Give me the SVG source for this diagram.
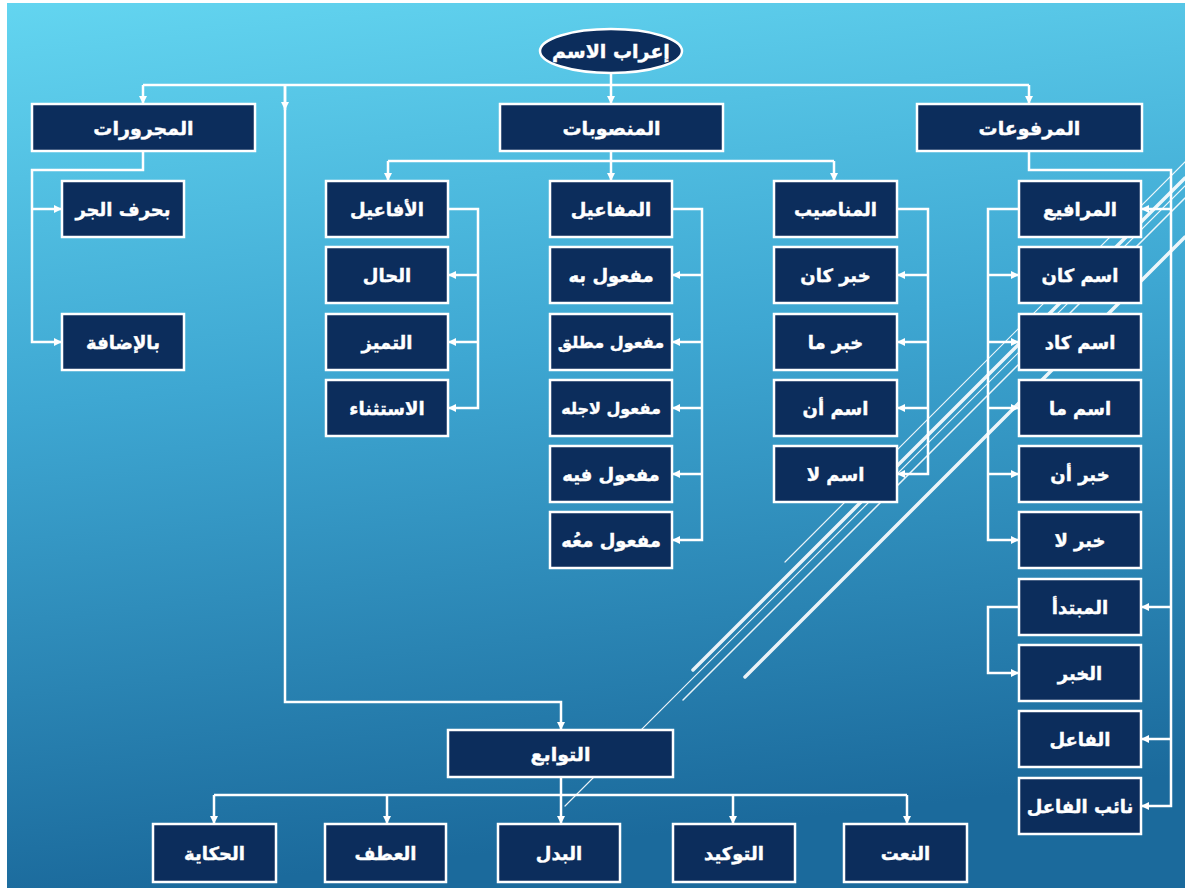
<svg xmlns="http://www.w3.org/2000/svg" width="1185" height="888" viewBox="0 0 1185 888">
  <defs>
    <linearGradient id="bg" x1="0" y1="0" x2="0.15" y2="1">
      <stop offset="0" stop-color="#63d5f0"/>
      <stop offset="0.45" stop-color="#3ea7d2"/>
      <stop offset="1" stop-color="#1b6a9c"/>
    </linearGradient>
    <marker id="arrow" markerUnits="userSpaceOnUse" markerWidth="9" markerHeight="9" refX="8" refY="4.5" orient="auto">
      <path d="M0,0.5 L8,4.5 L0,8.5 z" fill="#ffffff"/>
    </marker>
    <style>
      .box { fill: #0c2d5c; stroke: #ffffff; stroke-width: 2.5; }
      .lbl { fill: #ffffff; stroke: #ffffff; stroke-width: 0.4; font-family: "DejaVu Sans", "Liberation Sans", sans-serif; font-weight: bold; font-size: 18px; text-anchor: middle; dominant-baseline: central; direction: rtl; }
      .big { font-size: 19px; }
      .narrow { font-size: 16px; }
      .conn { fill: none; stroke: #ffffff; stroke-width: 2.5; }
      .arr { fill: none; stroke: #ffffff; stroke-width: 2.5; marker-end: url(#arrow); }
      .deco { stroke: #ffffff; fill: none; stroke-linecap: round; }
    </style>
  </defs>

  <!-- background -->
  <rect x="0" y="0" width="1185" height="888" fill="#ffffff"/>
  <rect x="7" y="3" width="1178" height="885" fill="url(#bg)"/>

  <!-- decorative diagonal strokes -->
  <g id="decoration" opacity="0.9">
    <line class="deco" x1="785" y1="562" x2="1185" y2="162" stroke-width="1.2"/>
    <line class="deco" x1="693" y1="670" x2="1185" y2="178" stroke-width="3.5"/>
    <line class="deco" x1="565" y1="806" x2="1185" y2="186" stroke-width="1.2"/>
    <line class="deco" x1="683" y1="700" x2="1185" y2="198" stroke-width="1.5"/>
    <line class="deco" x1="745" y1="677" x2="1185" y2="237" stroke-width="3.5"/>
  </g>

  <!-- connectors -->
  <g id="connectors">
    <!-- root to the three main branches -->
    <path class="arr" d="M611,73 V104"/>
    <path class="conn" d="M143,85 H1029"/>
    <path class="arr" d="M143,85 V104"/>
    <path class="arr" d="M1029,85 V104"/>
    <path class="arr" d="M285,85 V110"/>
    <path class="arr" d="M285,85 V702 H561 V730"/>

    <!-- المجرورات -->
    <path class="arr" d="M143,151 V170 H32 V342 H62"/>
    <path class="arr" d="M32,209 H62"/>

    <!-- المنصوبات -->
    <path class="conn" d="M611,151 V161 M388,161 H834"/>
    <path class="arr" d="M388,161 V181"/>
    <path class="arr" d="M611,161 V181"/>
    <path class="arr" d="M834,161 V181"/>

    <!-- الأفاعيل -->
    <path class="arr" d="M448,209 H478 V408 H448"/>
    <path class="arr" d="M478,275 H448"/>
    <path class="arr" d="M478,342 H448"/>

    <!-- المفاعيل -->
    <path class="arr" d="M672,209 H702 V540 H672"/>
    <path class="arr" d="M702,275 H672"/>
    <path class="arr" d="M702,342 H672"/>
    <path class="arr" d="M702,408 H672"/>
    <path class="arr" d="M702,474 H672"/>

    <!-- المناصيب -->
    <path class="arr" d="M897,209 H928 V474 H897"/>
    <path class="arr" d="M928,275 H897"/>
    <path class="arr" d="M928,342 H897"/>
    <path class="arr" d="M928,408 H897"/>

    <!-- المرافيع -->
    <path class="arr" d="M1019,209 H988 V540 H1019"/>
    <path class="arr" d="M988,275 H1019"/>
    <path class="arr" d="M988,342 H1019"/>
    <path class="arr" d="M988,408 H1019"/>
    <path class="arr" d="M988,474 H1019"/>

    <!-- المرفوعات -->
    <path class="arr" d="M1029,151 V170 H1171 V806 H1141"/>
    <path class="arr" d="M1171,209 H1141"/>
    <path class="arr" d="M1171,607 H1141"/>
    <path class="arr" d="M1171,739 H1141"/>

    <!-- المبتدأ والخبر -->
    <path class="arr" d="M1019,607 H988 V673 H1019"/>

    <!-- التوابع -->
    <path class="arr" d="M561,777 V824"/>
    <path class="conn" d="M214,795 H907"/>
    <path class="arr" d="M214,795 V824"/>
    <path class="arr" d="M387,795 V824"/>
    <path class="arr" d="M733,795 V824"/>
    <path class="arr" d="M907,795 V824"/>
  </g>

  <!-- root -->
  <g id="root">
    <ellipse class="box" cx="611" cy="51" rx="71" ry="22"/>
    <text class="lbl big" x="611" y="51">إعراب الاسم</text>
  </g>

  <!-- main branches -->
  <g id="majrurat">
    <rect class="box" x="32" y="104" width="223" height="47"/>
    <text class="lbl big" x="143.5" y="127.5">المجرورات</text>
  </g>
  <g id="mansubat">
    <rect class="box" x="500" y="104" width="223" height="47"/>
    <text class="lbl big" x="611.5" y="127.5">المنصوبات</text>
  </g>
  <g id="marfuat">
    <rect class="box" x="917" y="104" width="225" height="47"/>
    <text class="lbl big" x="1029.5" y="127.5">المرفوعات</text>
  </g>

  <!-- المجرورات children -->
  <g id="harf-jarr">
    <rect class="box" x="62" y="181" width="122" height="56"/>
    <text class="lbl" x="123" y="209">بحرف الجر</text>
  </g>
  <g id="idafa">
    <rect class="box" x="62" y="314" width="122" height="56"/>
    <text class="lbl" x="123" y="342">بالإضافة</text>
  </g>

  <!-- الأفاعيل column -->
  <g id="afail">
    <rect class="box" x="326" y="181" width="122" height="56"/>
    <text class="lbl" x="387" y="209">الأفاعيل</text>
  </g>
  <g id="hal">
    <rect class="box" x="326" y="247" width="122" height="56"/>
    <text class="lbl" x="387" y="275">الحال</text>
  </g>
  <g id="tamyiz">
    <rect class="box" x="326" y="314" width="122" height="56"/>
    <text class="lbl" x="387" y="342">التميز</text>
  </g>
  <g id="istithna">
    <rect class="box" x="326" y="380" width="122" height="56"/>
    <text class="lbl" x="387" y="408">الاستثناء</text>
  </g>

  <!-- المفاعيل column -->
  <g id="mafail">
    <rect class="box" x="550" y="181" width="122" height="56"/>
    <text class="lbl" x="611" y="209">المفاعيل</text>
  </g>
  <g id="maful-bih">
    <rect class="box" x="550" y="247" width="122" height="56"/>
    <text class="lbl" x="611" y="275">مفعول به</text>
  </g>
  <g id="maful-mutlaq">
    <rect class="box" x="550" y="314" width="122" height="56"/>
    <text class="lbl narrow" x="611" y="342">مفعول مطلق</text>
  </g>
  <g id="maful-li-ajlih">
    <rect class="box" x="550" y="380" width="122" height="56"/>
    <text class="lbl narrow" x="611" y="408">مفعول لاجله</text>
  </g>
  <g id="maful-fih">
    <rect class="box" x="550" y="446" width="122" height="56"/>
    <text class="lbl" x="611" y="474">مفعول فيه</text>
  </g>
  <g id="maful-maah">
    <rect class="box" x="550" y="512" width="122" height="56"/>
    <text class="lbl" x="611" y="540">مفعول معُه</text>
  </g>

  <!-- المناصيب column -->
  <g id="manasib">
    <rect class="box" x="774" y="181" width="123" height="56"/>
    <text class="lbl" x="835.5" y="209">المناصيب</text>
  </g>
  <g id="khabar-kana">
    <rect class="box" x="774" y="247" width="123" height="56"/>
    <text class="lbl" x="835.5" y="275">خبر كان</text>
  </g>
  <g id="khabar-ma">
    <rect class="box" x="774" y="314" width="123" height="56"/>
    <text class="lbl" x="835.5" y="342">خبر ما</text>
  </g>
  <g id="ism-anna">
    <rect class="box" x="774" y="380" width="123" height="56"/>
    <text class="lbl" x="835.5" y="408">اسم أن</text>
  </g>
  <g id="ism-la">
    <rect class="box" x="774" y="446" width="123" height="56"/>
    <text class="lbl" x="835.5" y="474">اسم لا</text>
  </g>

  <!-- المرافيع column -->
  <g id="marafi">
    <rect class="box" x="1019" y="181" width="122" height="56"/>
    <text class="lbl" x="1080" y="209">المرافيع</text>
  </g>
  <g id="ism-kana">
    <rect class="box" x="1019" y="247" width="122" height="56"/>
    <text class="lbl" x="1080" y="275">اسم كان</text>
  </g>
  <g id="ism-kada">
    <rect class="box" x="1019" y="314" width="122" height="56"/>
    <text class="lbl" x="1080" y="342">اسم كاد</text>
  </g>
  <g id="ism-ma">
    <rect class="box" x="1019" y="380" width="122" height="56"/>
    <text class="lbl" x="1080" y="408">اسم ما</text>
  </g>
  <g id="khabar-anna">
    <rect class="box" x="1019" y="446" width="122" height="56"/>
    <text class="lbl" x="1080" y="474">خبر أن</text>
  </g>
  <g id="khabar-la">
    <rect class="box" x="1019" y="512" width="122" height="56"/>
    <text class="lbl" x="1080" y="540">خبر لا</text>
  </g>
  <g id="mubtada">
    <rect class="box" x="1019" y="579" width="122" height="56"/>
    <text class="lbl" x="1080" y="607">المبتدأ</text>
  </g>
  <g id="khabar">
    <rect class="box" x="1019" y="645" width="122" height="56"/>
    <text class="lbl" x="1080" y="673">الخبر</text>
  </g>
  <g id="fail">
    <rect class="box" x="1019" y="711" width="122" height="56"/>
    <text class="lbl" x="1080" y="739">الفاعل</text>
  </g>
  <g id="naib-fail">
    <rect class="box" x="1019" y="778" width="122" height="56"/>
    <text class="lbl" x="1080" y="806">نائب الفاعل</text>
  </g>

  <!-- التوابع and its children -->
  <g id="tawabi">
    <rect class="box" x="448" y="730" width="225" height="47"/>
    <text class="lbl big" x="560.5" y="753.5">التوابع</text>
  </g>
  <g id="hikaya">
    <rect class="box" x="153" y="824" width="123" height="58"/>
    <text class="lbl" x="214.5" y="853">الحكاية</text>
  </g>
  <g id="atf">
    <rect class="box" x="325" y="824" width="121" height="58"/>
    <text class="lbl" x="385.5" y="853">العطف</text>
  </g>
  <g id="badal">
    <rect class="box" x="498" y="824" width="122" height="58"/>
    <text class="lbl" x="559" y="853">البدل</text>
  </g>
  <g id="tawkid">
    <rect class="box" x="673" y="824" width="122" height="58"/>
    <text class="lbl" x="734" y="853">التوكيد</text>
  </g>
  <g id="naat">
    <rect class="box" x="844" y="824" width="123" height="58"/>
    <text class="lbl" x="905.5" y="853">النعت</text>
  </g>
</svg>
